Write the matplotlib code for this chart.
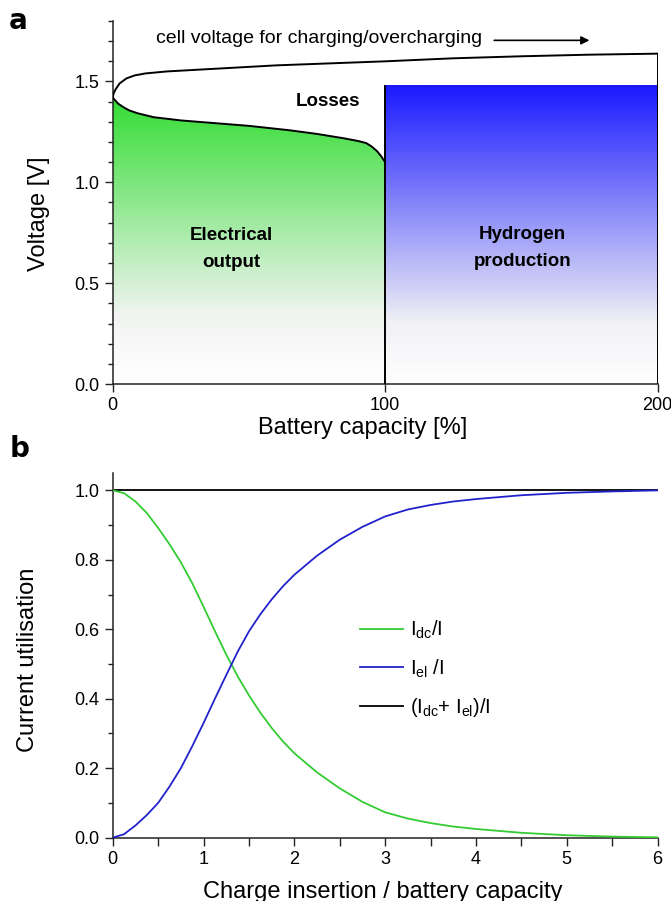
import matplotlib
matplotlib.use("Agg")
import matplotlib.pyplot as plt
import numpy as np
from matplotlib.colors import LinearSegmentedColormap
from matplotlib.patches import Polygon
from matplotlib.ticker import MultipleLocator

plt.rcParams['font.family'] = ['Liberation Sans', 'DejaVu Sans']
plt.rcParams['mathtext.default'] = 'regular'

# --- panel a: cell voltage vs battery capacity ---
charge_x = [0, 0.3, 1, 2.5, 5, 8, 12, 20, 40, 60, 80, 100, 125, 150, 175, 200]
charge_v = [1.42, 1.44, 1.46, 1.49, 1.515, 1.53, 1.54, 1.55, 1.565, 1.58, 1.59, 1.60,
            1.615, 1.625, 1.633, 1.638]

discharge_x = [0, 2, 4, 6, 9, 15, 25, 50, 65, 75, 85, 90, 93, 95, 97, 98.5, 100]
discharge_v = [1.42, 1.39, 1.372, 1.357, 1.343, 1.323, 1.307, 1.28, 1.258, 1.24, 1.218,
               1.205, 1.195, 1.178, 1.155, 1.13, 1.10]

h2_start, h2_end, h2_top = 100, 200, 1.48

# --- panel b: current utilisation ---
q_ins = [0, 0.125, 0.25, 0.375, 0.5, 0.625, 0.75, 0.875, 1.0, 1.125, 1.25, 1.375, 1.5,
         1.625, 1.75, 1.875, 2.0, 2.25, 2.5, 2.75, 3.0, 3.25, 3.5, 3.75, 4.0, 4.5, 5.0,
         5.5, 6.0]
i_dc = [1.0, 0.992, 0.968, 0.935, 0.892, 0.845, 0.793, 0.733, 0.665, 0.595, 0.527,
        0.465, 0.41, 0.36, 0.316, 0.277, 0.243, 0.188, 0.142, 0.103, 0.073, 0.055,
        0.042, 0.032, 0.025, 0.014, 0.007, 0.003, 0.001]
i_el = [0.0, 0.01, 0.035, 0.065, 0.10, 0.147, 0.20, 0.263, 0.33, 0.40, 0.468, 0.535,
        0.594, 0.643, 0.686, 0.724, 0.757, 0.812, 0.858, 0.895, 0.925, 0.945, 0.958,
        0.968, 0.975, 0.986, 0.993, 0.997, 1.0]
total_x = [0, 6]
total_y = [1.0, 1.0]

fig = plt.figure(figsize=(6.71, 9.01), dpi=100)
ax1 = fig.add_axes([0.168, 0.5738, 0.812, 0.4029])
ax2 = fig.add_axes([0.168, 0.0703, 0.812, 0.4047])

# green gradient under discharge curve
vmax = 1.45
green_cmap = LinearSegmentedColormap.from_list(
    "g", [(0, "#ffffff"), (0.2 / vmax, "#f8f8f8"), (0.34 / vmax, "#f1f4f1"),
          (1.42 / vmax, "#33dd33"), (1, "#33dd33")])
grad = np.linspace(0, vmax, 400).reshape(-1, 1)
poly = Polygon(np.column_stack([[0] + discharge_x + [discharge_x[-1]],
                                [0] + discharge_v + [0]]),
               closed=True, facecolor="none", edgecolor="none")
ax1.add_patch(poly)
im = ax1.imshow(grad, extent=[0, 100, 0, vmax], origin="lower", aspect="auto",
                cmap=green_cmap, vmin=0, vmax=vmax, zorder=1)
im.set_clip_path(poly)

# blue gradient for hydrogen production
blue_cmap = LinearSegmentedColormap.from_list(
    "b", [(0, "#ffffff"), (0.3 / h2_top, "#f1f1f6"), (1, "#1a1aff")])
grad_b = np.linspace(0, h2_top, 400).reshape(-1, 1)
ax1.imshow(grad_b, extent=[h2_start, h2_end, 0, h2_top], origin="lower", aspect="auto",
           cmap=blue_cmap, vmin=0, vmax=h2_top, zorder=1)

ax1.plot(charge_x, charge_v, color="black", lw=1.4, zorder=3)
ax1.plot(discharge_x, discharge_v, color="black", lw=1.4, zorder=3)
ax1.plot([h2_start, h2_start], [0, h2_top], color="black", lw=1.4, zorder=3)
ax1.plot([h2_end, h2_end], [0, charge_v[-1]], color="black", lw=1.4, zorder=3)

ax1.set_xlim(0, 200)
ax1.set_ylim(0, 1.8)
ax1.set_xticks([0, 100, 200])
ax1.yaxis.set_major_locator(MultipleLocator(0.5))
ax1.yaxis.set_minor_locator(MultipleLocator(0.1))

ax1.text(16, 1.715, "cell voltage for charging/overcharging", fontsize=14, va="center")
ax1.annotate("", xy=(176, 1.704), xytext=(139, 1.704),
             arrowprops=dict(arrowstyle="-|>", color="black", lw=1.2, mutation_scale=12))
ax1.text(79, 1.40, "Losses", fontsize=13.5, fontweight="bold", ha="center", va="center")
ax1.text(43.5, 0.67, "Electrical\noutput", fontsize=13.5, fontweight="bold",
         ha="center", va="center", linespacing=1.75, zorder=4)
ax1.text(150.5, 0.676, "Hydrogen\nproduction", fontsize=13.5, fontweight="bold",
         ha="center", va="center", linespacing=1.75, zorder=4)

ax1.set_xlabel("Battery capacity [%]", fontsize=17)
ax1.set_ylabel("Voltage [V]", fontsize=17)
ax1.xaxis.set_label_coords(0.459, -0.09)
ax1.yaxis.set_label_coords(-0.115, 0.47)

# panel b curves
ax2.plot(total_x, total_y, color="black", lw=1.3, label=r"$(I_{dc}$+ $I_{el})/I$", zorder=2)
ax2.plot(q_ins, i_dc, color="#33cc33", lw=1.3, label=r"$I_{dc}/I$", zorder=3)
ax2.plot(q_ins, i_el, color="#2222cc", lw=1.3, label=r"$I_{el}$ /I", zorder=3)

ax2.set_xlim(0, 6)
ax2.set_ylim(0, 1.05)
ax2.xaxis.set_major_locator(MultipleLocator(1))
ax2.xaxis.set_minor_locator(MultipleLocator(0.5))
ax2.yaxis.set_major_locator(MultipleLocator(0.2))
ax2.yaxis.set_minor_locator(MultipleLocator(0.1))
ax2.set_xlabel("Charge insertion / battery capacity", fontsize=17)
ax2.set_ylabel("Current utilisation", fontsize=17)
ax2.xaxis.set_label_coords(0.495, -0.118)
ax2.yaxis.set_label_coords(-0.135, 0.487)

handles, labels = ax2.get_legend_handles_labels()
order = [1, 2, 0]
ax2.legend([handles[i] for i in order], [labels[i] for i in order],
           loc="upper left", bbox_to_anchor=(0.454, 0.6), frameon=False,
           fontsize=14.5, handlelength=2.15, handletextpad=0.35, labelspacing=0.8,
           borderpad=0, borderaxespad=0)

for ax in (ax1, ax2):
    for s in ("top", "right"):
        ax.spines[s].set_visible(False)
    for s in ("left", "bottom"):
        ax.spines[s].set_linewidth(1.1)
        ax.spines[s].set_color("#222222")
    ax.tick_params(which="major", direction="out", length=6, width=1.0,
                   labelsize=13, color="#222222")
    ax.tick_params(which="minor", direction="out", length=3.5, width=1.0, color="#222222")
ax2.tick_params(axis="x", which="minor", length=6)

fig.text(0.027, 0.977, "a", fontsize=20, fontweight="bold", ha="center", va="center",
         family=["DejaVu Sans"])
fig.text(0.029, 0.502, "b", fontsize=20, fontweight="bold", ha="center", va="center",
         family=["DejaVu Sans"])

fig.savefig("out.png", dpi=100)
